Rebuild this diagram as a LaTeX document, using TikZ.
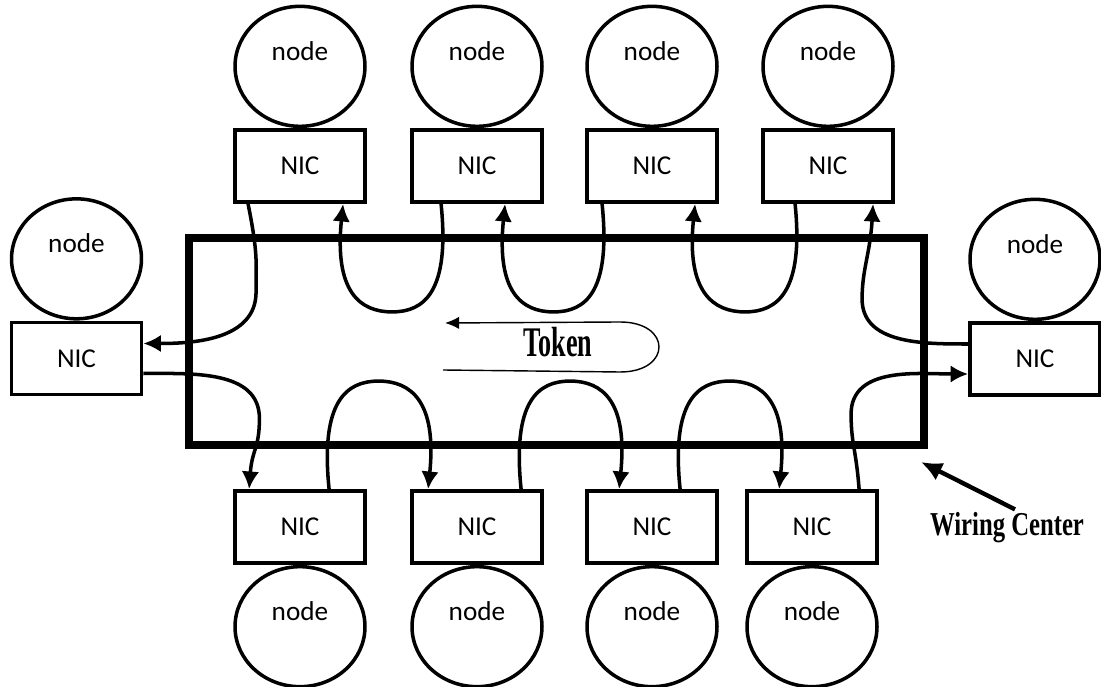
\documentclass[tikz,border=0pt]{standalone}
\usepackage{fontspec}
\setmainfont{Carlito}
\newfontfamily\timesfont{Liberation Serif}
\usetikzlibrary{shapes.geometric,positioning,arrows.meta,calc}

\begin{document}
\begin{tikzpicture}[x=0.02cm,y=0.02cm,
  nic/.style={draw,line width=2.2pt,minimum width=2.6cm,minimum height=1.44cm,inner sep=0pt,font=\fontsize{15.5}{18}\selectfont},
  host/.style={draw,ellipse,line width=2pt,minimum width=2.6cm,minimum height=2.4cm,inner sep=0pt,text height=0.4cm,text depth=0.64cm,font=\fontsize{15.5}{18}\selectfont},
  wire/.style={line width=2pt,-{Latex[length=10pt,width=10pt]}},
  ]
  \useasboundingbox (0,0) rectangle (1101,686);
  %wiring center
  \node[draw,line width=4.6pt,minimum width=14.7cm,minimum height=4.14cm,inner sep=0pt] (hub) at (556.5,344.5) {};
  %top row
  \foreach \i/\x/\o/\n in {1/300/15/110,2/477/31/95,3/652/17/110,4/828/34/112}{
    \node[nic] (t\i) at (\x,520) {NIC};
    \node[host,above=0pt of t\i] (th\i) {node};
    \coordinate (to\i) at ([xshift=\o*0.02cm]t\i.south west);
    \coordinate (ti\i) at ([xshift=\n*0.02cm]t\i.south west);
  }
  %bottom row
  \foreach \i/\x/\n/\o in {1/300/16/96,2/477/18/111,3/652/34/95,4/812/34/114}{
    \node[nic] (b\i) at (\x,159) {NIC};
    \node[host,below=0pt of b\i] (bh\i) {node};
    \coordinate (bi\i) at ([xshift=\n*0.02cm]b\i.north west);
    \coordinate (bo\i) at ([xshift=\o*0.02cm]b\i.north west);
  }
  %left and right
  \node[nic] (l) at (76.5,327.5) {NIC};
  \node[host,above=0pt of l] (lh) {node};
  \node[nic] (r) at (1035,327) {NIC};
  \node[host,above=0pt of r] (rh) {node};
  %wires
  \draw[wire] (to1) .. controls +(10,-50) and +(0,30) .. ++(8,-88) to[out=-90,in=0] ([yshift=0.3cm]l.east);
  \foreach \i/\j in {1/2,2/3,3/4}
    \draw[wire] (to\j) .. controls +(9,-88) and +(32,0) .. ($(ti\i)!0.5!(to\j)+(0,-108)$)
      .. controls +(-32,0) and +(-9,-88) .. (ti\i);
  \draw[wire] ([yshift=0.3cm]r.west) to[out=180,in=-90] ++(-106,45) .. controls +(0,30) and +(-3,-50) .. (ti4);
  \draw[wire] ([yshift=-0.3cm]l.east) to[out=0,in=90] ++(116,-45) .. controls +(0,-30) and +(3,40) .. (bi1);
  \foreach \i/\j in {1/2,2/3,3/4}
    \draw[wire] (bo\i) .. controls +(-9,88) and +(-32,0) .. ($(bo\i)!0.5!(bi\j)+(0,108)$)
      .. controls +(32,0) and +(9,88) .. (bi\j);
  \draw[wire] (bo4) .. controls +(-3,40) and +(0,-30) .. ++(-8,75) to[out=90,in=180] ([yshift=-0.3cm]r.west);
  %token
  \node[font=\timesfont\bfseries\fontsize{24}{28}\selectfont] (tok) at (558,344) {\scalebox{0.62}[1]{Token}};
  \coordinate (tkA) at (443,316);
  \coordinate (tkB) at (445,363);
  \draw[line width=0.8pt,-{Latex[length=8pt,width=7pt]}] (tkA) -- ++(177,-2) .. controls +(52,0) and +(52,0) .. ++(0,50) -- (tkB);
  %label
  \node[font=\timesfont\bfseries\fontsize{19}{22}\selectfont,inner sep=0pt] (wc) at (1007,158) {\scalebox{0.74}[1]{Wiring Center}};
  \draw[line width=2.5pt,-{Latex[length=12pt,width=11pt]}] ([xshift=0.16cm,yshift=0.06cm]wc.north) -- ([shift={(-0.14cm,-0.26cm)}]hub.south east);
\end{tikzpicture}
\end{document}
